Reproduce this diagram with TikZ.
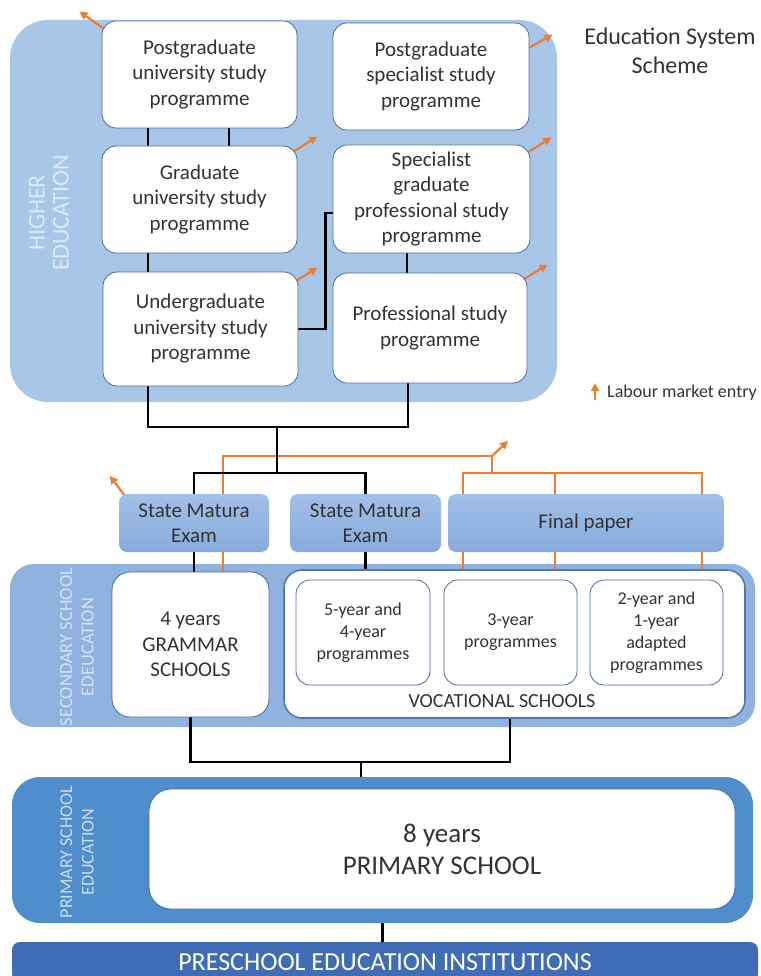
\documentclass[tikz,border=0pt]{standalone}
\usepackage{fontspec}
\setmainfont{Carlito}
\usetikzlibrary{arrows.meta, positioning, calc}
\pgfdeclarelayer{panels}
\pgfdeclarelayer{links}
\pgfsetlayers{panels,links,main}

\definecolor{hiblue}{HTML}{A8C7E8}
\definecolor{hilbl}{HTML}{DCE8F6}
\definecolor{secblue}{HTML}{8FB2DE}
\definecolor{seclbl}{HTML}{D3E2F4}
\definecolor{primblue}{HTML}{4F8DCC}
\definecolor{primlbl}{HTML}{CADCF1}
\definecolor{preblue}{HTML}{3F6CB4}
\definecolor{boxline}{HTML}{4D6A9E}
\definecolor{vocline}{HTML}{5278B3}
\definecolor{primline}{HTML}{3A6DB0}
\definecolor{examtop}{HTML}{A1C0E9}
\definecolor{exambot}{HTML}{87ABDB}
\definecolor{exitorange}{HTML}{ED7D31}
\definecolor{txt}{HTML}{333333}

\begin{document}
\begin{tikzpicture}[
    x=1pt, y=-1pt,
    panel/.style={inner sep=0pt, draw=none},
    sidelbl/.style={rotate=90, align=center, inner sep=0pt},
    prog/.style={draw=boxline, line width=0.8pt, fill=white, rounded corners=14pt, align=center, inner sep=2pt, text=txt, font=\fontsize{21}{25.5}\selectfont},
    smallprog/.style={prog, font=\fontsize{18}{22}\selectfont},
    exam/.style={rounded corners=8pt, top color=examtop, bottom color=exambot, align=center, text=txt, font=\fontsize{21}{25}\selectfont},
    link/.style={line width=2.6pt, black},
    tree/.style={line width=2.2pt, draw=exitorange},
    exit/.style={line width=2.2pt, draw=exitorange, -{Triangle[length=8pt, width=8pt]}}
]
\useasboundingbox (0,0) rectangle (760,976);

% panels
\begin{pgfonlayer}{panels}
\node[panel, fill=hiblue, rounded corners=38pt, minimum width=547pt, minimum height=382pt] (higher) at (283.5,211) {};
\node[sidelbl, text=hilbl, font=\fontsize{24}{24}\selectfont] (higherlbl) at (49,213) {HIGHER\\EDUCATION};
\node[panel, fill=secblue, rounded corners=24pt, minimum width=745pt, minimum height=163pt] (secondary) at (382.5,645.5) {};
\node[sidelbl, text=seclbl, font=\fontsize{18.5}{21.5}\selectfont] (secondarylbl) at (77,647) {SECONDARY SCHOOL\\EDEUCATION};
\node[panel, fill=primblue, rounded corners=28pt, minimum width=741pt, minimum height=146pt] (primary) at (382.5,850) {};
\node[sidelbl, text=primlbl, font=\fontsize{18}{21.5}\selectfont] (primarylbl) at (77,852) {PRIMARY SCHOOL\\EDUCATION};
\end{pgfonlayer}

% title and legend
\node[align=center, text=txt, font=\fontsize{24}{29}\selectfont] (title) at (670,51) {Education System\\Scheme};
\node[anchor=west, inner sep=0pt, text=txt, font=\fontsize{18}{22}\selectfont] (lme) at (607,393) {Labour market entry};

% higher education
\node[prog, minimum width=195pt, minimum height=107pt] (pgu) at (199.5,74.5) {Postgraduate\\university study\\programme};
\node[prog, minimum width=196pt, minimum height=107pt] (pgs) at (431,76.5) {Postgraduate\\specialist study\\programme};
\node[prog, minimum width=195pt, minimum height=107pt] (gu) at (199.5,199.5) {Graduate\\university study\\programme};
\node[prog, minimum width=197pt, minimum height=108pt] (sgp) at (431.5,199) {Specialist\\graduate\\professional study\\programme};
\node[prog, minimum width=195pt, minimum height=114pt] (ugu) at (200.5,329) {Undergraduate\\university study\\programme};
\node[prog, minimum width=194pt, minimum height=110pt] (psp) at (430,328) {Professional study\\programme};

% exams
\node[exam, minimum width=150pt, minimum height=58pt] (sm1) at (194,523) {State Matura\\Exam};
\node[exam, minimum width=151pt, minimum height=58pt] (sm2) at (365.5,523) {State Matura\\Exam};
\node[exam, minimum width=276pt, minimum height=58pt] (fp) at (586,523) {Final paper};

% secondary school
\node[prog, rounded corners=18pt, minimum width=157pt, minimum height=145pt] (gs) at (190.5,644.5) {4 years\\GRAMMAR\\SCHOOLS};
\node[prog, draw=vocline, line width=1.6pt, rounded corners=18pt, minimum width=461pt, minimum height=148pt] (voc) at (514.5,644) {};
\node[text=txt, font=\fontsize{20}{24}\selectfont] (voclbl) at (502,701) {VOCATIONAL SCHOOLS};
\node[smallprog, minimum width=134pt, minimum height=105pt] (y5) at (363,632.5) {5-year and\\4-year\\programmes};
\node[smallprog, minimum width=133pt, minimum height=105pt] (y3) at (510.5,632.5) {3-year\\programmes};
\node[smallprog, minimum width=133pt, minimum height=105pt] (y2) at (656.5,632.5) {2-year and\\1-year\\adapted\\programmes};

% primary and preschool
\node[prog, draw=primline, rounded corners=22pt, minimum width=586pt, minimum height=120pt, font=\fontsize{27}{32}\selectfont] (ps) at (442,849) {8 years\\PRIMARY SCHOOL};
\node[fill=preblue, rounded corners=8pt, minimum width=746pt, minimum height=40pt, text=white, font=\fontsize{26}{30}\selectfont] (preschool) at (385,962) {PRESCHOOL EDUCATION INSTITUTIONS};

\coordinate (hj) at (277,427);
\coordinate (sj) at (277,473);
\coordinate (oj) at (492,456);
\coordinate (fj) at (492,473);
\coordinate (pj) at (361,762);

\begin{pgfonlayer}{links}
% labour market exits
\draw[exit] ([shift={(2pt,-8pt)}]pgu.north west) -- ++(-24,-17);
\draw[exit] ([yshift=-25pt]pgs.north east) -- ++(23,-13);
\draw[exit] ([shift={(-4pt,-6pt)}]gu.north east) -- ++(24,-15);
\draw[exit] ([shift={(-3pt,-8pt)}]sgp.north east) -- ++(24,-15);
\draw[exit] ([shift={(-5pt,-11pt)}]ugu.north east) -- ++(24,-15);
\draw[exit] ([shift={(-4pt,-7pt)}]psp.north east) -- ++(24,-15);
\draw[exit] ([shift={(6pt,-2pt)}]sm1.north west) -- ++(-15,-20);
\draw[exit] ([shift={(-12pt,-7pt)}]lme.west) -- ++(0,-17);

% orange tree
\draw[tree] ([xshift=32.5pt]gs.north) |- (oj);
\draw[exit] (oj) -- ++(16,-15);
\draw[tree] (oj) -- (fj);
\draw[tree] ([xshift=-47.5pt]y3.north) |- (fj) -| ([xshift=45.5pt]y2.north);
\draw[tree] ([xshift=44.5pt]y3.north) -- ([xshift=44.5pt]y3.north |- fj);

% higher education links
\draw[link] ([xshift=-51.5pt]pgu.south) -- ([xshift=-51.5pt]gu.north);
\draw[link] ([xshift=29.5pt]pgu.south) -- ([xshift=29.5pt]gu.north);
\draw[link] ([xshift=-51.5pt]gu.south) -- ([xshift=-51.5pt]gu.south |- ugu.north);
\draw[link] ([xshift=-24.5pt]sgp.south) -- ([xshift=-24.5pt]sgp.south |- psp.north);
\draw[link] (ugu.east) -- ++(27,0) |- ([yshift=-14pt]sgp.west);
\draw[link] ([xshift=-52.5pt]ugu.south) |- (hj) -| ([xshift=-22pt]psp.south);

% down to secondary
\draw[link] (hj) -- (sj);
\draw[link] (sm1.north) |- (sj) -| (sm2.north);
\draw[link] (sm1.south) -- (sm1.south |- gs.north);
\draw[link] (sm2.south) -- (sm2.south |- y5.north);

% down to primary
\draw[link] (gs.south) |- ([xshift=-4.5pt]voc.south |- pj) -- ([xshift=-4.5pt]voc.south);
\draw[link] (pj) -- (pj |- primary.north);
\draw[link] (primary.south) -- (primary.south |- preschool.north);
\end{pgfonlayer}

\end{tikzpicture}
\end{document}
